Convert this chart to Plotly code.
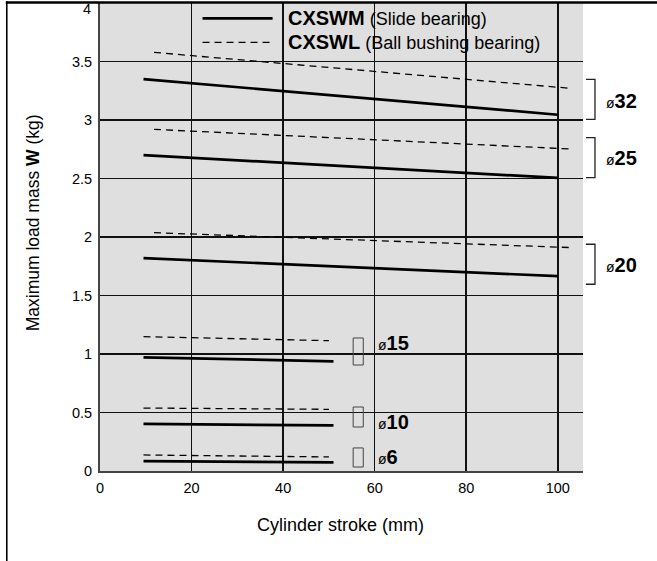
import plotly.graph_objects as go

# ---- data ----
bores = ["ø32", "ø25", "ø20", "ø15", "ø10", "ø6"]

# CXSWM (slide bearing) – solid lines: stroke range and load mass at ends
cxswm_x_start = [9.5, 9.5, 9.5, 9.5, 9.5, 9.5]
cxswm_x_end = [100, 100, 100, 51, 51, 51]
cxswm_y_start = [3.35, 2.70, 1.82, 0.972, 0.402, 0.085]
cxswm_y_end = [3.045, 2.505, 1.665, 0.937, 0.390, 0.074]

# CXSWL (ball bushing bearing) – dashed lines
cxswl_x_start = [11.8, 11.8, 11.8, 9.5, 9.5, 9.5]
cxswl_x_end = [103, 103, 102.6, 50, 50, 50]
cxswl_y_start = [3.578, 2.92, 2.037, 1.148, 0.538, 0.137]
cxswl_y_end = [3.27, 2.752, 1.91, 1.114, 0.527, 0.12]

x_ticks = [0, 20, 40, 60, 80, 100]
y_ticks = [0, 0.5, 1, 1.5, 2, 2.5, 3, 3.5, 4]
y_tick_labels = ["0", "0.5", "1", "1.5", "2", "2.5", "3", "3.5", "4"]

FONT = "Liberation Sans, Arial, Helvetica, sans-serif"

fig = go.Figure()

for i, b in enumerate(bores):
    fig.add_trace(go.Scatter(
        x=[cxswm_x_start[i], cxswm_x_end[i]],
        y=[cxswm_y_start[i], cxswm_y_end[i]],
        mode="lines", line=dict(color="black", width=2.7),
        name="CXSWM " + b, showlegend=False, hoverinfo="skip"))
    fig.add_trace(go.Scatter(
        x=[cxswl_x_start[i], cxswl_x_end[i]],
        y=[cxswl_y_start[i], cxswl_y_end[i]],
        mode="lines", line=dict(color="black", width=1.3, dash="7px,5px"),
        name="CXSWL " + b, showlegend=False, hoverinfo="skip"))

shapes = []
annotations = []

# figure border (left and top)
shapes.append(dict(type="line", xref="paper", yref="paper", x0=-0.193, x1=-0.193,
                   y0=-0.25, y1=1.004, line=dict(color="black", width=1.6), layer="above"))
shapes.append(dict(type="rect", xref="paper", yref="paper", x0=-0.195, x1=1.2,
                   y0=0.9985, y1=1.0035, fillcolor="black", line=dict(width=0), layer="above"))

# legend (custom drawn)
shapes.append(dict(type="line", xref="x", yref="y", x0=22.4, x1=37.7, y0=3.869, y1=3.869,
                   line=dict(color="black", width=2.7)))
shapes.append(dict(type="line", xref="x", yref="y", x0=22.4, x1=37.7, y0=3.664, y1=3.664,
                   line=dict(color="black", width=1.3, dash="7px,5px")))
annotations.append(dict(x=40.7, y=3.869, xref="x", yref="y", xanchor="left", yanchor="middle",
                        showarrow=False,
                        text="<b>CXSWM</b><span style='font-size:18px'> (Slide bearing)</span>",
                        font=dict(size=20, color="black", family=FONT)))
annotations.append(dict(x=40.7, y=3.664, xref="x", yref="y", xanchor="left", yanchor="middle",
                        showarrow=False,
                        text="<b>CXSWL</b><span style='font-size:18px'> (Ball bushing bearing)</span>",
                        font=dict(size=20, color="black", family=FONT)))

# right-hand brackets for large bores
brackets = [("32", 3.348, 3.006, 3.165), ("25", 2.849, 2.507, 2.673), ("20", 1.938, 1.596, 1.761)]
for lab, ytop, ybot, ymid in brackets:
    shapes.append(dict(type="path", xref="paper", yref="y",
                       path=f"M 1.0062 {ytop} L 1.0248 {ytop} L 1.0248 {ybot} L 1.0062 {ybot}",
                       line=dict(color="#222", width=1.3)))
    annotations.append(dict(x=1.0435, y=ymid, xref="paper", yref="y", xanchor="left",
                            yanchor="middle", showarrow=False,
                            text=f"<span style='font-size:14px'>ø</span><b>{lab}</b>",
                            font=dict(size=20, color="black", family=FONT)))

# small bores: box marks and labels
small = [("15", 1.137, 0.906, 1.097), ("10", 0.547, 0.376, 0.421), ("6", 0.197, 0.034, 0.12)]
for lab, ytop, ybot, ymid in small:
    shapes.append(dict(type="rect", xref="x", yref="y", x0=55.3, x1=57.5, y0=ybot, y1=ytop,
                       line=dict(color="#444", width=1)))
    annotations.append(dict(x=60.2, y=ymid, xref="x", yref="y", xanchor="left",
                            yanchor="middle", showarrow=False,
                            text=f"<span style='font-size:14px'>ø</span><b>{lab}</b>",
                            font=dict(size=20, color="black", family=FONT)))

# top tick label (drawn just inside the page edge, like the reference)
annotations.append(dict(x=-0.0145, y=3.945, xref="paper", yref="y", xanchor="right",
                        yanchor="middle", showarrow=False, text=y_tick_labels[-1],
                        font=dict(size=14.5, color="black", family=FONT)))

# axis titles
annotations.append(dict(x=0.497, y=-0.115, xref="paper", yref="paper", xanchor="center",
                        yanchor="middle", showarrow=False, text="Cylinder stroke (mm)",
                        font=dict(size=18, color="black", family=FONT)))
annotations.append(dict(x=-0.138, y=0.53, xref="paper", yref="paper", xanchor="center",
                        yanchor="middle", showarrow=False, textangle=-90,
                        text="Maximum load mass <b>W</b> (kg)",
                        font=dict(size=17.5, color="black", family=FONT)))

fig.update_layout(
    width=657, height=561,
    margin=dict(l=100, r=74, t=3, b=90),
    paper_bgcolor="white",
    plot_bgcolor="#dfdfdf",
    showlegend=False,
    hovermode=False,
    shapes=shapes,
    annotations=annotations,
    font=dict(family=FONT, size=14, color="black"),
    xaxis=dict(range=[0, 105.5], tickvals=x_ticks, showgrid=True, gridcolor="#111",
               gridwidth=1.6, zeroline=False, showline=True, linecolor="#444", linewidth=2,
               ticks="", ticklabelstandoff=3, tickfont=dict(size=14.5, family=FONT)),
    yaxis=dict(range=[0, 4], tickvals=y_ticks,
               ticktext=y_tick_labels[:-1] + [""], showgrid=True,
               gridcolor="#111", gridwidth=1.6, zeroline=False, showline=True,
               linecolor="#444", linewidth=2, ticks="", ticklabelstandoff=3,
               tickfont=dict(size=14.5, family=FONT)),
)

fig.write_html("out.html",
               config={"displayModeBar": False, "staticPlot": True},
               post_script="document.body.style.margin='0';document.body.style.overflow='hidden';")
